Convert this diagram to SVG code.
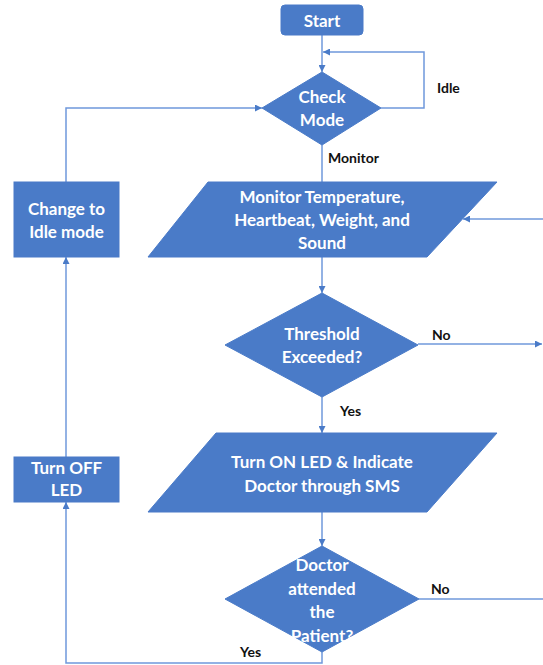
<svg xmlns="http://www.w3.org/2000/svg" width="543" height="665" viewBox="0 0 543 665">
<style>
.shape{fill:#4a7bc8;stroke:#4a7bc8;stroke-width:1}
.t{font-family:Lato,"Liberation Sans",sans-serif;font-weight:bold;font-size:17px;fill:#ffffff;text-anchor:middle}
.lbl{font-family:Lato,"Liberation Sans",sans-serif;font-weight:bold;font-size:14px;fill:#111111}
.c{fill:none;stroke:#6f98db;stroke-width:1.5}
</style>
<defs>
<marker id="ah" viewBox="0 0 10 10" refX="10" refY="5" markerWidth="7" markerHeight="7" markerUnits="userSpaceOnUse" orient="auto">
<path d="M0,0 L10,5 L0,10 z" fill="#4a7bc8"/>
</marker>
</defs>
<rect width="543" height="665" fill="#ffffff"/>
<g id="connectors">
<path class="c" d="M322,35 V72" marker-end="url(#ah)"/>
<path class="c" d="M381,108 H424 V52 H323" marker-end="url(#ah)"/>
<path class="c" d="M322,145 V182"/>
<path class="c" d="M66,182 V108 H262" marker-end="url(#ah)"/>
<path class="c" d="M543,219 H463" marker-end="url(#ah)"/>
<path class="c" d="M322,257 V293" marker-end="url(#ah)"/>
<path class="c" d="M418,344 H542" marker-end="url(#ah)"/>
<path class="c" d="M322,397 V433" marker-end="url(#ah)"/>
<path class="c" d="M322,512 V546" marker-end="url(#ah)"/>
<path class="c" d="M419,599 H543"/>
<path class="c" d="M322,652 V663 H66 V502" marker-end="url(#ah)"/>
<path class="c" d="M66,457 V257" marker-end="url(#ah)"/>
</g>
<g id="start">
<rect class="shape" x="281" y="5" width="82" height="30" rx="4"/>
<text class="t" x="322" y="27">Start</text>
</g>
<g id="check-mode">
<polygon class="shape" points="322,72 381,108 322,145 262,108"/>
<text class="t" x="322" y="103">Check</text>
<text class="t" x="322" y="126">Mode</text>
</g>
<g id="change-idle">
<rect class="shape" x="14" y="182" width="105" height="75"/>
<text class="t" x="66.5" y="215">Change to</text>
<text class="t" x="66.5" y="238">Idle mode</text>
</g>
<g id="monitor">
<polygon class="shape" points="208,182 497,182 427,257 148,257"/>
<text class="t" x="322" y="203">Monitor Temperature,</text>
<text class="t" x="322" y="226">Heartbeat, Weight, and</text>
<text class="t" x="322" y="249">Sound</text>
</g>
<g id="threshold">
<polygon class="shape" points="322,293 418,345 322,397 225,345"/>
<text class="t" x="322" y="340">Threshold</text>
<text class="t" x="322" y="363">Exceeded?</text>
</g>
<g id="turn-on">
<polygon class="shape" points="216,433 497,433 427,512 148,512"/>
<text class="t" x="322" y="468">Turn ON LED &amp; Indicate</text>
<text class="t" x="322" y="492">Doctor through SMS</text>
</g>
<g id="turn-off">
<rect class="shape" x="14" y="457" width="105" height="45"/>
<text class="t" x="66.5" y="474">Turn OFF</text>
<text class="t" x="66.5" y="496">LED</text>
</g>
<g id="doctor">
<polygon class="shape" points="322,546 419,599 322,652 225,599"/>
<text class="t" x="322" y="571">Doctor</text>
<text class="t" x="322" y="595">attended</text>
<text class="t" x="322" y="618">the</text>
<text class="t" x="322" y="642">Patient?</text>
</g>
<g id="labels">
<text class="lbl" x="437" y="93">Idle</text>
<text class="lbl" x="328" y="163">Monitor</text>
<text class="lbl" x="432" y="340">No</text>
<text class="lbl" x="340" y="416">Yes</text>
<text class="lbl" x="431" y="594">No</text>
<text class="lbl" x="240" y="657">Yes</text>
</g>
</svg>
